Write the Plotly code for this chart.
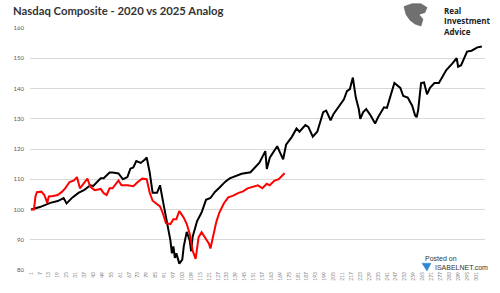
import plotly.graph_objects as go

# ---- data ----
black_x = [1, 7, 14, 19, 23, 25, 29, 33, 37, 41, 43, 48, 50, 54, 56, 60, 63, 66, 68, 70,
           72, 75, 78, 79, 81, 83, 86, 87, 88, 90, 92, 95, 96, 97, 98, 99, 101, 103, 104, 106,
           108, 109, 110, 113, 116, 119, 122, 125, 128, 132, 135, 139, 143, 149, 153, 155, 159, 160, 162, 167,
           169, 171, 173, 177, 180, 182, 186, 188, 191, 194, 196, 198, 200, 203, 205, 208, 212, 214, 216, 218,
           220, 222, 223, 225, 227, 230, 233, 235, 239, 241, 242, 246, 250, 252, 255, 258, 260, 261, 262, 264,
           266, 268, 270, 273, 276, 279, 281, 285, 288, 289, 291, 295, 298, 302, 305]
black_y = [100.0, 100.8, 102.2, 102.8, 103.8, 102.0, 104.0, 105.5, 106.5, 108.0, 107.8, 110.3, 110.3, 112.2, 112.2, 111.9, 110.0, 110.7, 113.5, 113.9,
           116.0, 115.4, 116.6, 117.2, 112.3, 105.5, 105.5, 107.0, 108.0, 102.7, 97.5, 89.8, 85.5, 87.8, 84.0, 85.5, 82.1, 83.4, 87.8, 92.6,
           89.8, 86.2, 91.0, 96.2, 99.0, 103.2, 103.8, 105.8, 107.2, 109.2, 110.3, 111.0, 111.8, 112.3, 114.5, 115.5, 119.3, 113.4, 117.1, 120.9,
           118.7, 116.6, 121.4, 124.1, 126.8, 125.7, 127.9, 127.3, 124.1, 125.7, 128.9, 132.2, 132.7, 129.5, 131.6, 133.5, 136.4, 139.1, 139.8, 143.6,
           137.0, 133.2, 130.0, 132.2, 133.2, 131.1, 128.4, 130.5, 133.8, 133.6, 135.4, 141.8, 140.2, 137.5, 137.0, 134.3, 131.1, 130.5, 132.7, 141.8,
           142.0, 138.1, 140.2, 141.8, 141.8, 144.5, 146.1, 148.2, 150.0, 147.2, 147.7, 152.2, 152.5, 153.6, 153.9]

red_x = [1, 3, 4, 5, 8, 10, 12, 13, 16, 19, 22, 24, 27, 30, 32, 34, 39, 41, 44, 48,
         50, 52, 54, 56, 60, 62, 66, 70, 73, 76, 79, 81, 83, 86, 88, 90, 92, 95, 97, 99,
         101, 104, 106, 108, 110, 112, 114, 116, 118, 121, 122, 124, 126, 128, 131, 134, 137, 141, 144, 147,
         151, 154, 157, 160, 162, 165, 168, 170, 172]
red_y = [100.0, 100.0, 104.3, 105.7, 105.9, 104.8, 102.1, 104.3, 104.5, 104.8, 105.9, 107.0, 109.1, 109.6, 110.7, 107.0, 110.2, 107.5, 106.4, 106.8,
         105.4, 104.8, 107.0, 107.0, 109.6, 108.0, 108.0, 107.7, 109.1, 110.2, 110.0, 105.6, 102.9, 101.8, 101.0, 98.6, 95.5, 95.2, 96.8, 96.8,
         99.5, 97.3, 95.2, 92.0, 86.4, 83.7, 90.8, 92.5, 90.9, 88.7, 87.1, 92.0, 96.0, 99.0, 102.0, 104.0, 104.5, 105.5, 106.0, 107.0,
         107.5, 108.0, 107.0, 108.5, 108.0, 109.5, 110.0, 111.0, 112.0]

x_tick_vals = list(range(1, 302, 6))
x_tick_text = [str(v) for v in x_tick_vals]
y_tick_vals = [80, 90, 100, 110, 120, 130, 140, 150, 160]

# ---- layout helpers (pixel -> paper) ----
L, R, T, B = 30, 15, 28, 16
W, H = 500, 293
PW, PH = W - L - R, H - T - B


def px(x):
    return (x - L) / PW


def py(y):
    return (H - B - y) / PH


fig = go.Figure()
fig.add_trace(go.Scatter(x=black_x, y=black_y, mode="lines",
                         line=dict(color="#000000", width=2), showlegend=False))
fig.add_trace(go.Scatter(x=red_x, y=red_y, mode="lines",
                         line=dict(color="#ff0000", width=2), showlegend=False))

fig.update_layout(
    width=W, height=H,
    margin=dict(l=L, r=R, t=T, b=B),
    paper_bgcolor="white", plot_bgcolor="white",
    font=dict(family="Lato, Arial, sans-serif", color="#595959"),
    title=dict(text="<b>Nasdaq Composite - 2020 vs 2025 Analog</b>",
               x=13 / W, xanchor="left", y=1 - 11 / H, yanchor="middle",
               font=dict(family="Lato", size=11.3, color="#333333")),
    xaxis=dict(range=[0.33, 307.1], tickmode="array", tickvals=x_tick_vals,
               ticktext=x_tick_text, tickangle=-90, showgrid=False, zeroline=False,
               showline=False, ticks="", tickfont=dict(size=5, color="#7f7f7f")),
    yaxis=dict(range=[80, 160], tickmode="array", tickvals=y_tick_vals,
               showgrid=True, gridcolor="#d9d9d9", gridwidth=0.8, zeroline=False,
               showline=False, ticks="", ticklabelstandoff=5,
               tickfont=dict(size=6, color="#595959")),
)

# Real Investment Advice logo
eagle = [(404, 6), (412, 3), (421, 3), (427, 7), (425, 12), (419, 14), (423, 19),
         (421, 26), (415, 24), (410, 20), (406, 14)]
path = "M " + " L ".join(f"{px(a):.4f},{py(b):.4f}" for a, b in eagle) + " Z"
fig.add_shape(type="path", xref="paper", yref="paper", path=path,
              fillcolor="#707070", line=dict(color="#505050", width=0.5))
fig.add_annotation(xref="paper", yref="paper", x=px(442), y=py(2), xanchor="left", yanchor="top",
                   text="<b>Real<br>Investment<br>Advice</b>", showarrow=False, align="left",
                   font=dict(family="Open Sans", size=8, color="#222222"))

# Posted on ISABELNET.com
bird = [(422, 270), (431, 270), (427, 278)]
path2 = "M " + " L ".join(f"{px(a):.4f},{py(b):.4f}" for a, b in bird) + " Z"
fig.add_shape(type="path", xref="paper", yref="paper", path=path2,
              fillcolor="#2f86d1", line=dict(color="#2f86d1", width=0.5))
fig.add_annotation(xref="paper", yref="paper", x=px(423), y=py(265), xanchor="left", yanchor="middle",
                   text="Posted on", showarrow=False,
                   font=dict(family="Liberation Sans", size=7, color="#333333"))
fig.add_annotation(xref="paper", yref="paper", x=px(433), y=py(274), xanchor="left", yanchor="middle",
                   text="ISABELNET.com", showarrow=False,
                   font=dict(family="Liberation Sans", size=7, color="#333333"))

fig.write_html("out.html")
